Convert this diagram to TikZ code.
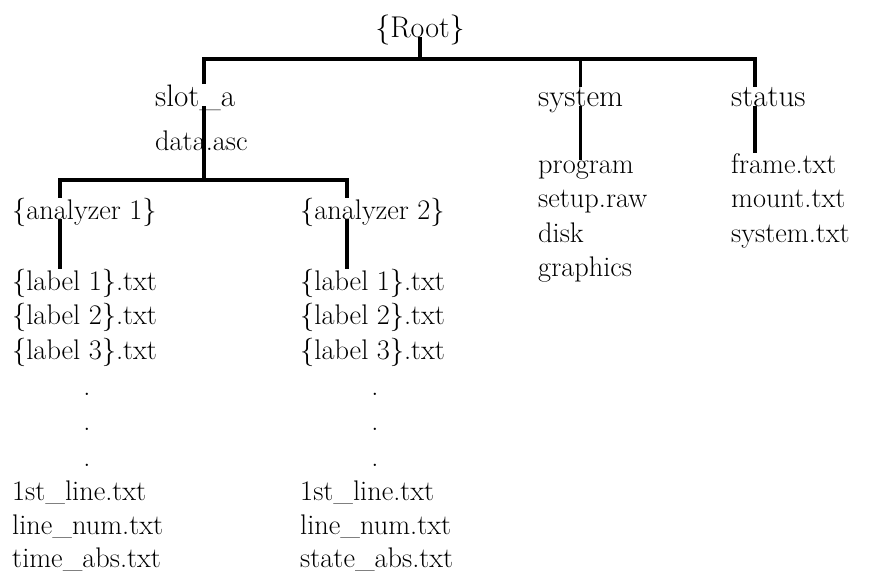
\documentclass[tikz,border=0pt]{standalone}
\usepackage{tikz}
\tikzset{
  rootlabel/.style={anchor=base, inner sep=0pt, font=\fontsize{25.6}{30}\selectfont},
  dirlabel/.style={anchor=base west, inner sep=0pt, font=\fontsize{26.5}{30}\selectfont},
  filelabel/.style={anchor=base west, inner sep=0pt, font=\fontsize{24.2}{29}\selectfont},
  dotlabel/.style={anchor=base, inner sep=0pt, font=\fontsize{24.2}{29}\selectfont},
  branch/.style={line width=3pt},
}

\begin{document}
\begin{tikzpicture}[x=0.03cm, y=-0.03cm]
  \useasboundingbox (0,0) rectangle (869,574);

  % top level
  \node[rootlabel] (root) at (420,37) {\{Root\}};
  \node[dirlabel] (slota) at (155,106) {slot\_a};
  \node[dirlabel] (system) at (538,106) {system};
  \node[dirlabel] (status) at (731,106) {status};
  \node[filelabel] (dataasc) at (155,150) {data.asc};

  % analyzers
  \node[filelabel] (anaA) at (12,219) {\{analyzer 1\}};
  \node[filelabel] (anaB) at (300,219) {\{analyzer 2\}};

  % analyzer 1 files
  \node[filelabel] (labA1) at (12,290) {\{label 1\}.txt};
  \node[filelabel] (labA2) at (12,324.5) {\{label 2\}.txt};
  \node[filelabel] (labA3) at (12,359) {\{label 3\}.txt};
  \node[dotlabel] (dotA1) at (87,395) {.};
  \node[dotlabel] (dotA2) at (87,430) {.};
  \node[dotlabel] (dotA3) at (87,466) {.};
  \node[filelabel] (firstA) at (12,500) {1st\_line.txt};
  \node[filelabel] (numA) at (12,534) {line\_num.txt};
  \node[filelabel] (timeA) at (12,567) {time\_abs.txt};

  % analyzer 2 files
  \node[filelabel] (labB1) at (300,290) {\{label 1\}.txt};
  \node[filelabel] (labB2) at (300,324.5) {\{label 2\}.txt};
  \node[filelabel] (labB3) at (300,359) {\{label 3\}.txt};
  \node[dotlabel] (dotB1) at (375,395) {.};
  \node[dotlabel] (dotB2) at (375,430) {.};
  \node[dotlabel] (dotB3) at (375,466) {.};
  \node[filelabel] (firstB) at (300,500) {1st\_line.txt};
  \node[filelabel] (numB) at (300,534) {line\_num.txt};
  \node[filelabel] (stateB) at (300,567) {state\_abs.txt};

  % system files
  \node[filelabel] (program) at (538,173) {program};
  \node[filelabel] (setup) at (538,207.5) {setup.raw};
  \node[filelabel] (disk) at (538,242) {disk};
  \node[filelabel] (graphics) at (538,276.5) {graphics};

  % status files
  \node[filelabel] (frame) at (731,173) {frame.txt};
  \node[filelabel] (mount) at (731,207.5) {mount.txt};
  \node[filelabel] (systxt) at (731,242) {system.txt};

  % bus lines
  \coordinate (busL) at (204,59);
  \coordinate (busR) at (755,59);
  \coordinate (abusL) at (60,180);
  \coordinate (abusR) at (347,180);
  \coordinate (abusM) at (204,180);

  % root branches
  \draw[branch] (root.base) -- (root.base |- busL);
  \draw[branch] (busL |- slota.north) -- (busL) -- (busR) -- (busR |- status.north);
  \draw[branch] (system.north |- busL) -- (system.north);

  % slot_a branch
  \draw[branch] (busL |- slota.base) -- (busL |- dataasc.base);
  \draw[branch] (busL |- dataasc.base) -- (abusM);
  \draw[branch] (abusL |- anaA.north) -- (abusL) -- (abusR) -- (abusR |- anaB.north);
  \draw[branch] (abusL |- anaA.base) -- (abusL |- labA1.north);
  \draw[branch] (abusR |- anaB.base) -- (abusR |- labB1.north);

  % system and status
  \draw[branch] (system.base) -- (system.base |- program.north);
  \draw[branch] (busR |- status.base) -- (busR |- frame.north);

\end{tikzpicture}
\end{document}
